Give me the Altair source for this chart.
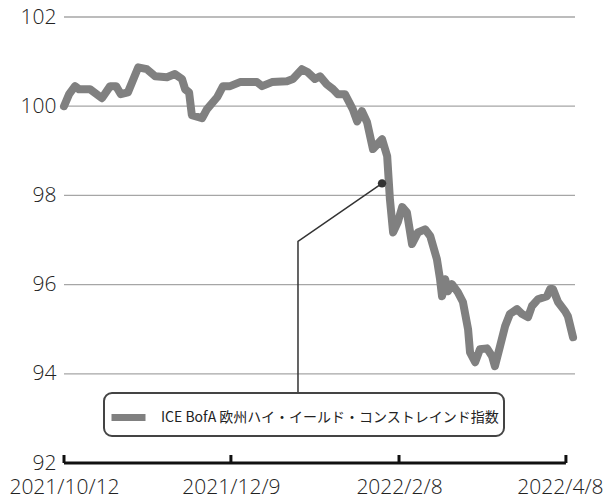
import altair as alt
import pandas as pd

# trading-day index (0 = 2021/10/12) and index level
day_idx = [0, 1.3, 2.8, 3.8, 6.6, 9.6, 11.7, 13.2, 14.4, 16.2, 18.8, 21.0, 23.1, 26.1, 28.1, 29.9,
           30.7, 31.7, 32.4, 35.0, 36.2, 38.8, 40.3, 42.1, 44.6, 48.9, 50.2, 52.7, 56.5, 58.0,
           60.3, 61.8, 63.6, 64.9, 66.6, 68.2, 69.4, 71.2, 73.2, 74.3, 75.5, 76.8, 78.3, 80.6,
           81.9, 82.6, 83.4, 84.6, 85.7, 86.9, 88.2, 89.7, 91.5, 92.8, 94.5, 95.3, 95.8, 96.6,
           97.3, 98.3, 99.8, 101.1, 102.4, 102.9, 104.2, 105.4, 107.2, 108.5, 109.2, 110.5,
           111.8, 113.0, 114.8, 116.1, 117.6, 118.6, 120.1, 122.4, 123.2, 123.9, 125.2, 127.0,
           127.7, 129.0]
values = [100.00, 100.27, 100.45, 100.38, 100.38, 100.18, 100.45, 100.45, 100.27, 100.31,
          100.87, 100.83, 100.67, 100.65, 100.72, 100.61, 100.38, 100.31, 99.80, 99.73, 99.93,
          100.20, 100.45, 100.45, 100.54, 100.54, 100.45, 100.54, 100.56, 100.61, 100.83,
          100.76, 100.61, 100.67, 100.49, 100.38, 100.27, 100.27, 99.93, 99.66, 99.89, 99.64,
          99.04, 99.26, 98.88, 97.91, 97.17, 97.40, 97.74, 97.62, 96.91, 97.17, 97.24, 97.09,
          96.57, 96.12, 95.74, 96.12, 95.85, 96.01, 95.83, 95.61, 95.00, 94.48, 94.26, 94.55,
          94.57, 94.39, 94.17, 94.62, 95.07, 95.34, 95.45, 95.34, 95.27, 95.52, 95.67, 95.74,
          95.90, 95.90, 95.61, 95.40, 95.29, 94.82]
series_name = "ICE BofA 欧州ハイ・イールド・コンストレインド指数"

tick_idx = [0, 42.3, 84.9, 127.2]
tick_labels = ["2021/10/12", "2021/12/9", "2022/2/8", "2022/4/8"]
y_ticks = [92, 94, 96, 98, 100, 102]
grid_vals = [94, 96, 98, 100, 102]

# annotation leader (index, value)
ann_idx = [80.6, 59.3, 59.3]
ann_val = [98.27, 96.97, 93.59]

AXFONT = "Open Sans"
JPFONT = "Noto Sans CJK JP"

df = pd.DataFrame({"idx": day_idx, "v": values, "series": series_name})
grid_df = pd.DataFrame({"g": grid_vals})
ann_df = pd.DataFrame({"idx": ann_idx, "v": ann_val, "o": range(len(ann_idx))})
dot_df = ann_df.iloc[:1]
base_df = pd.DataFrame({"x0": [tick_idx[0]], "x1": [tick_idx[-1]], "y": [92]})
tick_df = pd.DataFrame({"t": tick_idx, "y0": [92] * 4, "y1": [92.18] * 4})

label_expr = "".join(
    f"abs(datum.value - {t}) < 1 ? '{l}' : " for t, l in zip(tick_idx, tick_labels)
) + "''"

x_scale = alt.Scale(domain=[0, 129.5], nice=False, zero=False)
y_scale = alt.Scale(domain=[92, 102], nice=False, zero=False)
x_axis = alt.Axis(values=tick_idx, labelExpr=label_expr, title=None, grid=False, ticks=False,
                  domain=False, labelFont=AXFONT, labelFontSize=21, labelFontWeight=300,
                  labelColor="#222", labelPadding=13, labelFlush=False, labelOverlap=False,
                  labelBound=False,
                  labelOffset={"condition": {"test": f"datum.value > {tick_idx[2] + 1}",
                                             "value": -6}, "value": 0})
y_axis = alt.Axis(values=y_ticks, title=None, grid=False, ticks=False, domain=False,
                  labelFont=AXFONT, labelFontSize=21, labelFontWeight=300,
                  labelColor="#222", labelPadding=8, labelFlush=False, labelOverlap=False)

grid = alt.Chart(grid_df).mark_rule(color="#a6a6a6", strokeWidth=1.3).encode(
    y=alt.Y("g:Q", scale=y_scale, axis=y_axis)
)

ann_line = alt.Chart(ann_df).mark_line(color="#333333", strokeWidth=1.5).encode(
    x=alt.X("idx:Q", scale=x_scale, axis=x_axis),
    y=alt.Y("v:Q", scale=y_scale, axis=y_axis),
    order="o:Q",
)

main = alt.Chart(df).mark_line(strokeWidth=8, strokeJoin="round", strokeCap="round").encode(
    x=alt.X("idx:Q", scale=x_scale, axis=x_axis),
    y=alt.Y("v:Q", scale=y_scale, axis=y_axis),
    color=alt.Color("series:N", scale=alt.Scale(range=["#808080"]),
                    legend=alt.Legend(title=None, orient="none", legendX=40, legendY=376,
                                      symbolType="stroke", symbolStrokeWidth=7,
                                      symbolSize=1156, labelFont=JPFONT, labelFontSize=14,
                                      labelColor="#222", labelOffset=12, labelLimit=600,
                                      padding=4, strokeColor="#444444", cornerRadius=8,
                                      fillColor="white")),
)

dot = alt.Chart(dot_df).mark_circle(size=70, color="#333333", opacity=1).encode(
    x=alt.X("idx:Q", scale=x_scale, axis=x_axis),
    y=alt.Y("v:Q", scale=y_scale, axis=y_axis),
)

baseline = alt.Chart(base_df).mark_rule(color="#111111", strokeWidth=3).encode(
    x=alt.X("x0:Q", scale=x_scale, axis=x_axis),
    x2="x1:Q",
    y=alt.Y("y:Q", scale=y_scale, axis=y_axis),
)

ticks = alt.Chart(tick_df).mark_rule(color="#111111", strokeWidth=3).encode(
    x=alt.X("t:Q", scale=x_scale, axis=x_axis),
    y=alt.Y("y0:Q", scale=y_scale, axis=y_axis),
    y2="y1:Q",
)

chart = alt.layer(grid, ann_line, main, dot, baseline, ticks).properties(
    width=511, height=446,
    autosize=alt.AutoSizeParams(type="none"),
    padding={"left": 56, "top": 9, "right": 30, "bottom": 34},
).configure_view(stroke=None).configure_legend(strokeWidth=2)

chart.save("out.html", embed_options={"renderer": "svg", "actions": False})
